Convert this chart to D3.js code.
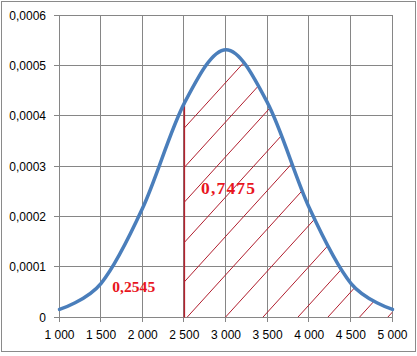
<!DOCTYPE html>
<html>
<head>
<meta charset="utf-8">
<script src="https://cdn.jsdelivr.net/npm/d3@7"></script>
<style>
  html, body { margin: 0; padding: 0; background: #fff; }
  svg { display: block; }
</style>
</head>
<body>
<svg id="chart" width="417" height="356"></svg>
<script>
// ---- data ----
const xValues = [1000, 1500, 2000, 2500, 3000, 3500, 4000, 4500, 5000];
const density = [0.000016, 0.000068, 0.000218, 0.000426, 0.000532, 0.000426, 0.000218, 0.000068, 0.000016];
const xTickValues = [1000, 1500, 2000, 2500, 3000, 3500, 4000, 4500, 5000];
const xTickLabels = ["1 000", "1 500", "2 000", "2 500", "3 000", "3 500", "4 000", "4 500", "5 000"];
const yTickValues = [0, 0.0001, 0.0002, 0.0003, 0.0004, 0.0005, 0.0006];
const yTickLabels = ["0", "0,0001", "0,0002", "0,0003", "0,0004", "0,0005", "0,0006"];
const cutoff = 2500;
const hatchStarts = [430, 860, 1240, 1680, 2110, 2530, 2990, 3440, 3860, 4220, 4600, 4940];
const areaLabels = ["0,2545", "0,7475"];

const svg = d3.select("#chart");
const W = 417, H = 356;

// outer chart border
svg.append("rect")
  .attr("x", 1.5).attr("y", 1.5).attr("width", W - 3).attr("height", 350)
  .attr("fill", "#fff").attr("stroke", "#8a8a8a").attr("stroke-width", 1);

const x = d3.scaleLinear().domain([1000, 5000]).range([59.5, 392.5]);
const y = d3.scaleLinear().domain([0, 0.0006]).range([317.5, 15.5]);

const pts = xValues.map((v, i) => [v, density[i]]);
const curve = d3.curveCardinal.tension(0);

// gridlines
const grid = svg.append("g").attr("stroke", "#868686").attr("stroke-width", 1).attr("shape-rendering", "crispEdges");
grid.selectAll("line.v").data(xTickValues).join("line")
  .attr("x1", d => Math.round(x(d)) - 0.5).attr("x2", d => Math.round(x(d)) - 0.5)
  .attr("y1", y(0.0006)).attr("y2", y(0) + 4);
grid.selectAll("line.h").data(yTickValues).join("line")
  .attr("x1", x(1000) - 6).attr("x2", x(5000))
  .attr("y1", d => Math.round(y(d)) - 0.5).attr("y2", d => Math.round(y(d)) - 0.5);

// clip paths
const defs = svg.append("defs");
const areaGen = d3.area().x(d => x(d[0])).y0(y(0)).y1(d => y(d[1])).curve(curve);
defs.append("clipPath").attr("id", "underCurve").append("path").attr("d", areaGen(pts));
defs.append("clipPath").attr("id", "rightOfCut").append("rect")
  .attr("x", x(cutoff)).attr("y", y(0.0006)).attr("width", x(5000) - x(cutoff)).attr("height", y(0) - y(0.0006));

const hatchSlope = 1.1;
const hatch = svg.append("g").attr("clip-path", "url(#rightOfCut)")
  .append("g").attr("clip-path", "url(#underCurve)");
const len = (y(0) - y(0.0006)) / hatchSlope + 10;
hatch.selectAll("line").data(hatchStarts).join("line")
  .attr("x1", d => x(d)).attr("y1", y(0))
  .attr("x2", d => x(d) + len).attr("y2", y(0) - len * hatchSlope)
  .attr("stroke", "#b01e2e").attr("stroke-width", 1);

// cutoff vertical line
svg.append("line")
  .attr("x1", x(cutoff)).attr("x2", x(cutoff))
  .attr("y1", y(0)).attr("y2", y(density[xValues.indexOf(cutoff)]) + 3)
  .attr("stroke", "#b5222e").attr("stroke-width", 1.5);

// curve
const lineGen = d3.line().x(d => x(d[0])).y(d => y(d[1])).curve(curve);
svg.append("path").attr("d", lineGen(pts))
  .attr("fill", "none").attr("stroke", "#4a7ebb").attr("stroke-width", 3.5)
  .attr("stroke-linecap", "round");

// axes labels
const fontFam = "'Liberation Sans', Arial, sans-serif";
svg.append("g").selectAll("text").data(yTickValues).join("text")
  .attr("x", 46).attr("y", d => y(d)).attr("dy", "0.35em")
  .attr("text-anchor", "end").attr("font-family", fontFam).attr("font-size", 12)
  .attr("fill", "#000").text((d, i) => yTickLabels[i]);
svg.append("g").selectAll("text").data(xTickValues).join("text")
  .attr("x", d => x(d)).attr("y", 339)
  .attr("text-anchor", "middle").attr("font-family", fontFam).attr("font-size", 12)
  .attr("fill", "#000").text((d, i) => xTickLabels[i]);

// probability labels
const labelPos = [[1891, 0.0000503, 15.5, 43], [3024, 0.0002444, 17.5, 54]];
svg.append("g").selectAll("text").data(areaLabels).join("text")
  .attr("x", (d, i) => x(labelPos[i][0])).attr("y", (d, i) => y(labelPos[i][1]))
  .attr("text-anchor", "middle")
  .attr("font-family", "'Liberation Serif', 'Times New Roman', serif")
  .attr("font-weight", "bold")
  .attr("font-size", (d, i) => labelPos[i][2])
  .attr("textLength", (d, i) => labelPos[i][3])
  .attr("lengthAdjust", "spacing")
  .attr("fill", "#e8161e").text(d => d);
</script>
</body>
</html>
